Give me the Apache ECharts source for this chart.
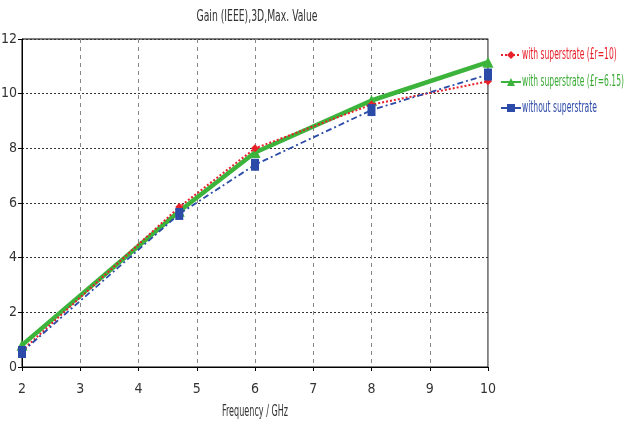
<!DOCTYPE html>
<html><head><meta charset="utf-8">
<script src="https://cdn.jsdelivr.net/npm/echarts@6/dist/echarts.min.js"></script>
<style>html,body{margin:0;padding:0;background:#fff}#c{width:625px;height:425px}</style>
</head><body><div id="c"></div>
<script>
const freq = [2, 4.7, 6, 8, 10];
const gainEr10 = [0.6, 5.85, 8.0, 9.6, 10.45];
const gainEr615 = [0.8, 5.7, 7.85, 9.75, 11.15];
const gainNone = [0.55, 5.6, 7.4, 9.4, 10.7];
const names = ['with superstrate (£r=10)', 'with superstrate (£r=6.15)', 'without superstrate'];
const colors = ['#e8202a', '#3cb43c', '#2c4aa8'];
const textColors = ['#e8202a', '#3aaa35', '#2c4aa8'];
const titleText = 'Gain (IEEE),3D,Max. Value';
const xName = 'Frequency / GHz';

const FAM = '"DejaVu Sans Condensed","DejaVu Sans",sans-serif';
const ctx = document.createElement('canvas').getContext('2d');
function widthOf(t, size){ ctx.font = size + 'px ' + FAM; return ctx.measureText(t).width; }
function narrowText(t, x, y, size, targetW, color, align){
  return {type:'text', x:x, y:y, scaleX: targetW / widthOf(t, size), z:10,
    style:{text:t, font: size + 'px ' + FAM, fill:color, textAlign:align, textVerticalAlign:'middle'}};
}
const LSIZE = 16;
const legendScale = 102 / widthOf(names[1], LSIZE);
const legendRows = [55, 82, 108];

const pairs = a => freq.map((f,i)=>[f,a[i]]);
const chart = echarts.init(document.getElementById('c'));
chart.setOption({
  animation:false,
  textStyle:{fontFamily:FAM},
  grid:{left:22,right:137,top:39,bottom:58,show:true,borderColor:'#000',borderWidth:1,outerBoundsMode:'none',containLabel:false},
  legend: names.map((n,i)=>({left:495, top:legendRows[i]-10, itemWidth:20, itemHeight:10, padding:5,
    formatter:()=>'', textStyle:{fontSize:12}, data:[n]})),
  graphic: [
    narrowText(titleText, 257, 17, 15, 121, '#333', 'center'),
    narrowText(xName, 255, 412, 15, 66, '#333', 'center')
  ].concat(names.map((n,i)=>({type:'text', x:522, y:legendRows[i], scaleX:legendScale, z:10,
    style:{text:n, font:LSIZE + 'px ' + FAM, fill:textColors[i], textAlign:'left', textVerticalAlign:'middle'}}))),
  xAxis:{type:'value',min:2,max:10,interval:1,
    axisLine:{lineStyle:{color:'#000',width:1}},
    axisTick:{show:true,length:4,lineStyle:{color:'#000'}},
    axisLabel:{fontSize:14,color:'#333',margin:15,fontFamily:FAM},
    splitLine:{show:true,lineStyle:{color:'#888',type:[4,4],width:1}}},
  yAxis:[{type:'value',min:0,max:12,interval:2,
    axisLine:{show:true,lineStyle:{color:'#000',width:1}},
    axisTick:{show:true,length:4,lineStyle:{color:'#000'}},
    axisLabel:{fontSize:14,color:'#333',margin:5,fontFamily:FAM},
    splitLine:{show:true,lineStyle:{color:'#333',type:[2,2],width:1}}},
    {type:'value',min:0,max:12,interval:2,position:'right',
    axisLine:{show:true,lineStyle:{color:'#999',width:1}},
    axisTick:{show:false},axisLabel:{show:false},splitLine:{show:false}}],
  series:[
    {name:names[1],type:'line',data:pairs(gainEr615),z:3,
      symbol:'triangle',symbolSize:11,
      lineStyle:{color:colors[1],width:4.5},itemStyle:{color:colors[1]}},
    {name:names[0],type:'line',data:pairs(gainEr10),z:4,
      symbol:'diamond',symbolSize:8,
      lineStyle:{color:colors[0],width:2,type:[2,2]},itemStyle:{color:colors[0]}},
    {name:names[2],type:'line',data:pairs(gainNone),z:5,
      symbol:'rect',symbolSize:[8,12],
      lineStyle:{color:colors[2],width:1.8,type:[6,3,2,3]},itemStyle:{color:colors[2]}}
  ]
});
</script></body></html>
